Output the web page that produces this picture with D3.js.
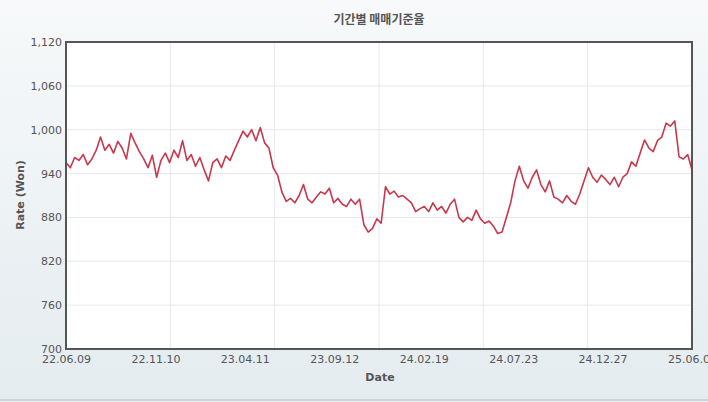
<!DOCTYPE html>
<html><head><meta charset="utf-8">
<script src="https://cdn.jsdelivr.net/npm/d3@7"></script>
<style>body{margin:0;}svg{display:block;font-family:"DejaVu Sans",sans-serif;}</style>
</head><body><svg id="c" width="708" height="402"></svg>
<script>
const title = "기간별 매매기준율";
const xTickLabels = ["22.06.09","22.11.10","23.04.11","23.09.12","24.02.19","24.07.23","24.12.27","25.06.09"];
const yTicks = [700,760,820,880,940,1000,1060,1120];
const rates = [
955,948,962,958,966,952,960,972,
990,972,980,968,984,975,960,
995,982,970,960,948,965,
935,958,968,955,972,962,985,958,966,950,
962,945,930,955,960,948,
964,958,972,985,998,990,
1000,985,1003,982,975,
948,938,915,902,906,
900,910,925,905,900,908,915,
912,920,900,906,898,895,905,898,905,
870,860,865,878,872,
922,912,916,908,910,905,900,888,
892,895,888,900,890,895,886,898,905,880,
874,880,876,890,878,872,875,868,
858,860,880,900,930,950,
930,920,935,945,925,915,930,908,
905,900,910,902,898,912,930,
948,935,928,938,932,925,935,
922,935,940,956,950,968,
986,975,970,985,990,
1009,1005,1012,
963,960,966,945];

const svg = d3.select("#c");
const defs = svg.append("defs");
const g = defs.append("linearGradient").attr("id","bg").attr("x1",0).attr("y1",0).attr("x2",0).attr("y2",1);
g.append("stop").attr("offset","0%").attr("stop-color","#f7f9fa");
g.append("stop").attr("offset","100%").attr("stop-color","#e4ecef");
svg.append("rect").attr("width",708).attr("height",402).attr("fill","url(#bg)");
svg.append("line").attr("x1",0).attr("x2",708).attr("y1",400).attr("y2",400).attr("stroke","#bbb");

const L=66,R=692,T=42,B=349;
const x = d3.scaleLinear().domain([0,rates.length-1]).range([L,R]);
const y = d3.scaleLinear().domain([700,1120]).range([B,T]);
const xl = d3.scalePoint().domain(xTickLabels).range([L,R]);

svg.append("rect").attr("x",L).attr("y",T).attr("width",R-L).attr("height",B-T).attr("fill","#fff");
svg.append("g").selectAll("line").data(yTicks).join("line")
 .attr("x1",L).attr("x2",R).attr("y1",d=>y(d)).attr("y2",d=>y(d)).attr("stroke","#e6e8ec");
svg.append("g").selectAll("line").data(d3.range(1,6)).join("line")
 .attr("x1",d=>L+(R-L)*d/6).attr("x2",d=>L+(R-L)*d/6).attr("y1",T).attr("y2",B).attr("stroke","#e6e8ec");

svg.append("path").datum(rates).attr("fill","none").attr("stroke","#c8374c").attr("stroke-width",1.6)
 .attr("stroke-linejoin","round")
 .attr("d",d3.line().x((d,i)=>x(i)).y(d=>y(d)));

svg.append("rect").attr("x",L).attr("y",T).attr("width",R-L).attr("height",B-T)
 .attr("fill","none").attr("stroke","#555").attr("stroke-width",2);

const ya = svg.append("g").attr("transform",`translate(${L},0)`)
 .call(d3.axisLeft(y).tickValues(yTicks).tickSize(0).tickPadding(4).tickFormat(d3.format(",")));
ya.select(".domain").remove();
ya.selectAll("text").attr("font-size",11).attr("fill","#555").attr("font-family","DejaVu Sans");

const xa = svg.append("g").attr("transform",`translate(0,${B})`)
 .call(d3.axisBottom(xl).tickSize(0).tickPadding(6));
xa.select(".domain").remove();
xa.selectAll("text").attr("font-size",11).attr("fill","#555").attr("font-family","DejaVu Sans");

svg.append("text").attr("x",379).attr("y",24).attr("text-anchor","middle").attr("font-size",12)
 .attr("font-weight","bold").attr("fill","#555").attr("font-family","Noto Sans CJK KR").text(title);
svg.append("text").attr("x",380).attr("y",381).attr("text-anchor","middle").attr("font-size",11)
 .attr("font-weight","bold").attr("fill","#555").text("Date");
svg.append("text").attr("transform","translate(24,195) rotate(-90)").attr("text-anchor","middle").attr("font-size",11)
 .attr("font-weight","bold").attr("fill","#555").text("Rate (Won)");
</script></body></html>
